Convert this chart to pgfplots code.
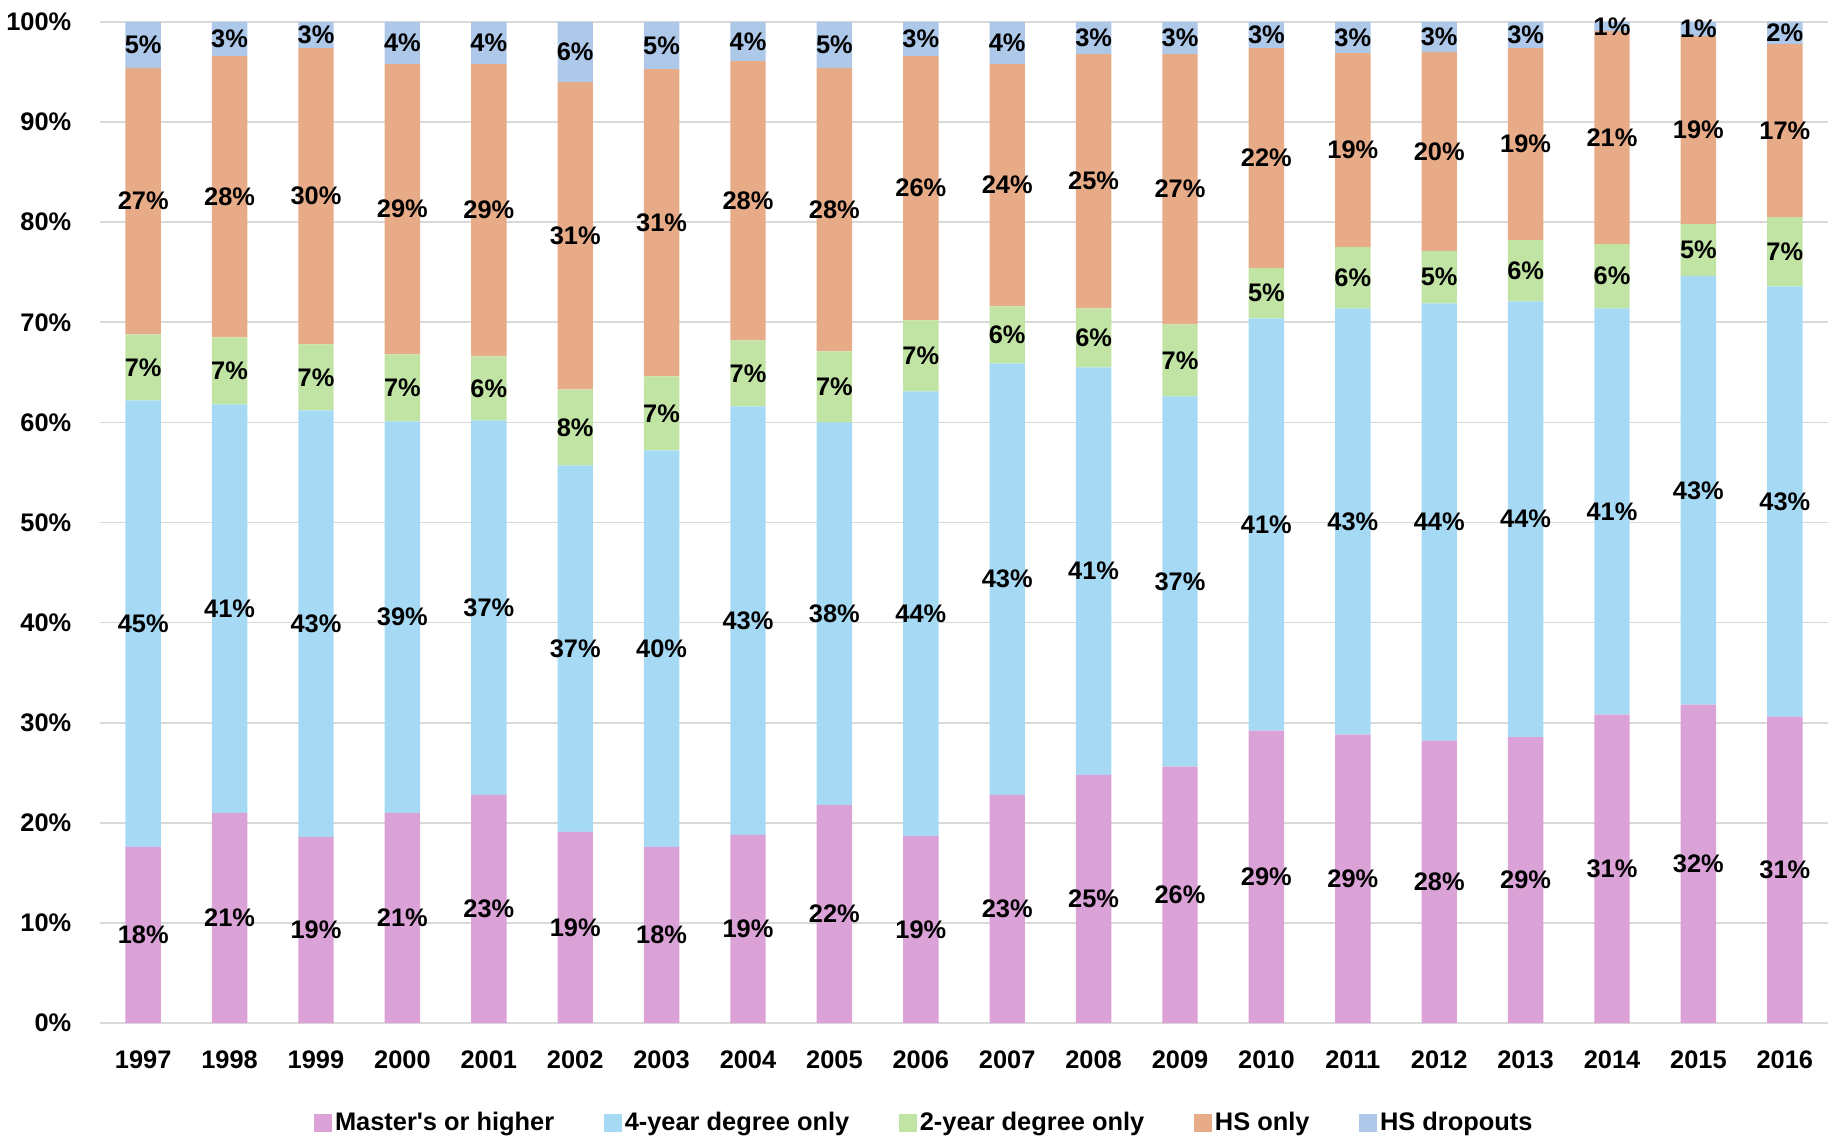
\documentclass[border=0pt]{standalone}
\usepackage{fontspec}
\setmainfont{Liberation Sans}
\usepackage{pgfplots}
\pgfplotsset{compat=1.18}
\usepackage{pgfplotstable}

\definecolor{cM}{HTML}{DBA2D8}
\definecolor{cF}{HTML}{A6DAF4}
\definecolor{cT}{HTML}{C1E4A5}
\definecolor{cH}{HTML}{E8AB88}
\definecolor{cD}{HTML}{ADC8E9}
\definecolor{gridc}{HTML}{D9D9D9}

\newcommand\lab{\fontsize{12.7}{15.2}\selectfont\bfseries}

\pgfplotstableread{
x m f t h d
0 17.6 44.6 6.6 26.6 4.6
1 21.0 40.8 6.7 28.1 3.4
2 18.6 42.6 6.6 29.6 2.6
3 21.0 39.1 6.7 29.0 4.2
4 22.8 37.4 6.4 29.2 4.2
5 19.1 36.6 7.6 30.7 6.0
6 17.6 39.6 7.4 30.7 4.7
7 18.8 42.8 6.6 27.9 3.9
8 21.8 38.2 7.1 28.3 4.6
9 18.7 44.4 7.1 26.4 3.4
10 22.8 43.1 5.7 24.2 4.2
11 24.8 40.7 5.9 25.4 3.2
12 25.6 37.0 7.2 27.0 3.2
13 29.2 41.2 5.0 22.0 2.6
14 28.8 42.6 6.1 19.4 3.1
15 28.2 43.7 5.2 19.9 3.0
16 28.55 43.55 6.1 19.2 2.6
17 30.8 40.6 6.4 21.3 0.9
18 31.8 42.8 5.2 18.8 1.4
19 30.6 43.0 6.9 17.3 2.2
}\data

\begin{document}
\begin{tikzpicture}
\begin{axis}[
  scale only axis, width=864pt, height=500.5pt,
  ybar stacked, bar width=17.7pt,
  xmin=-0.5, xmax=19.5, ymin=0, ymax=100,
  clip=false,
  xtick={0,1,2,3,4,5,6,7,8,9,10,11,12,13,14,15,16,17,18,19},
  xticklabels={1997,1998,1999,2000,2001,2002,2003,2004,2005,2006,2007,2008,2009,2010,2011,2012,2013,2014,2015,2016},
  ytick={0,10,20,30,40,50,60,70,80,90,100},
  yticklabels={0\%,10\%,20\%,30\%,40\%,50\%,60\%,70\%,80\%,90\%,100\%},
  ymajorgrids, major grid style={draw=gridc, line width=0.85pt},
  axis line style={draw=none}, major tick length=0pt, tick style={draw=none},
  tick label style={font=\lab},
  xticklabel style={yshift=-10.5pt},
  yticklabel style={xshift=-10.8pt},
  point meta=explicit,
  /pgf/number format/assume math mode=true,
  nodes near coords={\pgfmathprintnumber[fixed,precision=0]{\pgfplotspointmeta}\%},
  every node near coord/.append style={font=\lab, anchor=center},
  every axis plot post/.append style={legend image code/.code={\fill[##1] (0pt,-4.4pt) rectangle (8.8pt,4.4pt);}},
  legend columns=5,
  legend style={at={(0.4774,-0.0999)}, anchor=center, draw=none, font=\lab,
    nodes={inner sep=1.5pt},
    /tikz/every even column/.append style={column sep=23.5pt}},
]
\addplot[fill=cM, draw=none] table[x=x,y=m,meta=m]{\data};
\addlegendentry{Master\textquotesingle s or higher}
\addplot[fill=cF, draw=none] table[x=x,y=f,meta=f]{\data};
\addlegendentry{4-year degree only}
\addplot[fill=cT, draw=none] table[x=x,y=t,meta=t]{\data};
\addlegendentry{2-year degree only}
\addplot[fill=cH, draw=none] table[x=x,y=h,meta=h]{\data};
\addlegendentry{HS only}
\addplot[fill=cD, draw=none] table[x=x,y=d,meta=d]{\data};
\addlegendentry{HS dropouts}
\end{axis}
\pgfresetboundingbox
\path (-50pt,-61.5pt) rectangle (868pt,511.5pt);
\end{tikzpicture}
\end{document}
